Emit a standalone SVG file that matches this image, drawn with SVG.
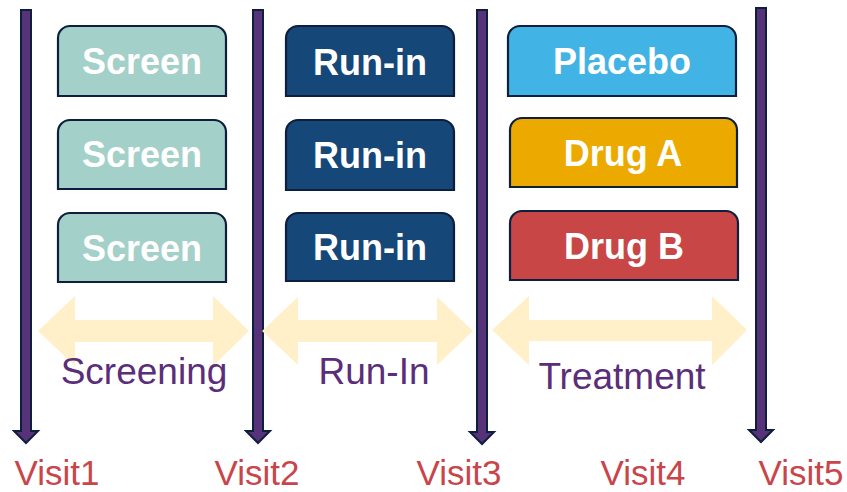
<svg xmlns="http://www.w3.org/2000/svg" width="847" height="492" viewBox="0 0 847 492">
<style>
.box{stroke:#0d1f3c;stroke-width:2.2}
.bt{font-family:"Liberation Sans",Arial,sans-serif;font-weight:bold;font-size:36px;fill:#ffffff;text-anchor:middle}
.vis{stroke:#0d1f3c;stroke-width:2;fill:#563278;stroke-linejoin:miter}
.span{fill:#fff0c9}
.ph{font-family:"Liberation Sans",Arial,sans-serif;font-size:37px;fill:#5a2e7a;text-anchor:middle}
.vl{font-family:"Liberation Sans",Arial,sans-serif;font-size:35px;fill:#c8454a;text-anchor:middle}
.scr{fill:#a3d0c8}.run{fill:#154778}.pla{fill:#41b3e4}.dra{fill:#ecaa00}.drb{fill:#c84646}
</style>
<rect width="847" height="492" fill="#ffffff"/>
<g id="connectors">
  <path class="vis" d="M21,10 H31 V431 H38 L26,443 L14,431 H21 Z"/>
  <path class="vis" d="M253,10 H263 V431 H270 L258,443 L246,431 H253 Z"/>
  <path class="vis" d="M477,10 H487 V432 H494 L482,444 L470,432 H477 Z"/>
  <path class="vis" d="M756,8 H766 V430 H773 L761,442 L749,430 H756 Z"/>
  <path class="span" d="M38,331 L75,296 V320 H213 V296 L249,331 L213,366 V342 H75 V366 Z"/>
  <path class="span" d="M262,331 L298,297 V320 H437 V297 L473,331 L437,365 V342 H298 V365 Z"/>
  <path class="span" d="M492,330 L529,296 V320 H712 V296 L747,330 L712,365 V341 H529 V365 Z"/>
</g>
<g id="screen1"><path class="box scr" d="M58,96 V38 A12,12 0 0 1 70,26 H214 A12,12 0 0 1 226,38 V96 Z"/><text class="bt" x="142" y="74">Screen</text></g>
<g id="screen2"><path class="box scr" d="M58,189 V132 A12,12 0 0 1 70,120 H214 A12,12 0 0 1 226,132 V189 Z"/><text class="bt" x="142" y="167">Screen</text></g>
<g id="screen3"><path class="box scr" d="M58,282 V225 A12,12 0 0 1 70,213 H214 A12,12 0 0 1 226,225 V282 Z"/><text class="bt" x="142" y="261">Screen</text></g>
<g id="runin1"><path class="box run" d="M286,96 V38 A12,12 0 0 1 298,26 H442 A12,12 0 0 1 454,38 V96 Z"/><text class="bt" x="370" y="75">Run-in</text></g>
<g id="runin2"><path class="box run" d="M286,190 V132 A12,12 0 0 1 298,120 H442 A12,12 0 0 1 454,132 V190 Z"/><text class="bt" x="370" y="168">Run-in</text></g>
<g id="runin3"><path class="box run" d="M286,281 V225 A12,12 0 0 1 298,213 H442 A12,12 0 0 1 454,225 V281 Z"/><text class="bt" x="370" y="260">Run-in</text></g>
<g id="placebo"><path class="box pla" d="M508,96 V38 A12,12 0 0 1 520,26 H724 A12,12 0 0 1 736,38 V96 Z"/><text class="bt" x="622" y="74">Placebo</text></g>
<g id="druga"><path class="box dra" d="M510,187 V130 A12,12 0 0 1 522,118 H725 A12,12 0 0 1 737,130 V187 Z"/><text class="bt" x="623" y="166">Drug A</text></g>
<g id="drugb"><path class="box drb" d="M510,280 V223 A12,12 0 0 1 522,211 H726 A12,12 0 0 1 738,223 V280 Z"/><text class="bt" x="624" y="259">Drug B</text></g>
<g id="phases">
  <text class="ph" x="144" y="384">Screening</text>
  <text class="ph" x="374" y="384">Run-In</text>
  <text class="ph" x="622" y="389">Treatment</text>
</g>
<g id="visits">
  <text class="vl" x="57" y="485">Visit1</text>
  <text class="vl" x="257" y="485">Visit2</text>
  <text class="vl" x="459" y="485">Visit3</text>
  <text class="vl" x="643" y="485">Visit4</text>
  <text class="vl" x="801" y="485">Visit5</text>
</g>
</svg>
